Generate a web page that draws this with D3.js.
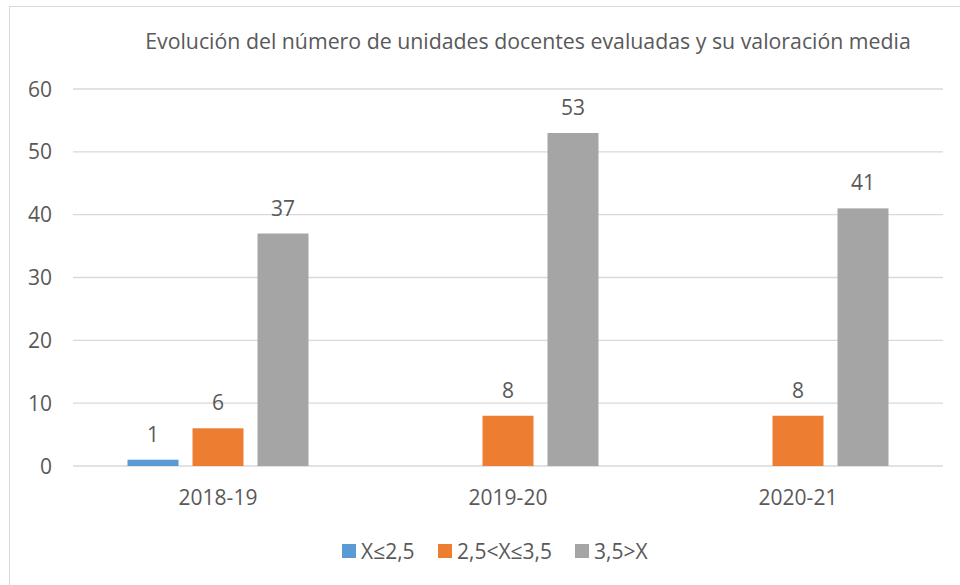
<!DOCTYPE html>
<html>
  <head>
    <meta charset="utf-8" />
    <title>Unidades docentes evaluadas</title>
    <script src="https://d3js.org/d3.v7.min.js"></script>
    <style>
      body { margin: 0; background: #fff; }
      text { font-family: "Open Sans", "Noto Sans", sans-serif; fill: #595959; }
    </style>
  </head>
  <body>
    <svg width="960" height="585" id="chart"></svg>
    <script>
      // data
      var years = ["2018-19", "2019-20", "2020-21"];
      var seriesNames = ["X≤2,5", "2,5<X≤3,5", "3,5>X"];
      var seriesColors = ["#5b9bd5", "#ed7d31", "#a5a5a5"];
      var lowValues = [1, 0, 0];
      var midValues = [6, 8, 8];
      var highValues = [37, 53, 41];
      var yTicks = [0, 10, 20, 30, 40, 50, 60];

      function drawChart() {
        var allSeries = [lowValues, midValues, highValues];
        var svg = d3.select("#chart");
        var fs = "21px";

        // outer chart border (cropped at right and bottom)
        svg.append("rect")
          .attr("x", 9.5).attr("y", 6.5)
          .attr("width", 1000).attr("height", 1000)
          .attr("fill", "white")
          .attr("stroke", "#d9d9d9")
          .attr("stroke-width", 1);

        var plotLeft = 73, plotRight = 943, plotTop = 89, plotBottom = 466;

        var x = d3.scaleBand().domain(years).range([plotLeft, plotRight]);
        var y = d3.scaleLinear().domain([0, 60]).range([plotBottom, plotTop]);

        // gridlines
        svg.selectAll(".grid")
          .data(yTicks)
          .enter().append("line")
          .attr("x1", plotLeft).attr("x2", plotRight)
          .attr("y1", function(d){ return y(d); })
          .attr("y2", function(d){ return y(d); })
          .attr("stroke", "#d9d9d9")
          .attr("stroke-width", 1.3);

        // y tick labels
        svg.selectAll(".ylab")
          .data(yTicks)
          .enter().append("text")
          .attr("x", 52)
          .attr("y", function(d){ return y(d); })
          .attr("dy", "0.36em")
          .attr("text-anchor", "end")
          .style("font-size", fs)
          .text(function(d){ return d; });

        // x category labels
        svg.selectAll(".xlab")
          .data(years)
          .enter().append("text")
          .attr("x", function(d){ return x(d) + x.bandwidth() / 2; })
          .attr("y", 505)
          .attr("text-anchor", "middle")
          .style("font-size", fs)
          .text(function(d){ return d; });

        var barW = 51, step = 65;

        // bars, one group per series
        allSeries.forEach(function(vals, s){
          var items = years.map(function(yr, i){ return {year: yr, v: vals[i]}; })
            .filter(function(d){ return d.v > 0; });
          var cx = function(d){ return x(d.year) + x.bandwidth() / 2 + (s - 1) * step; };

          svg.selectAll(".bar" + s)
            .data(items)
            .enter().append("rect")
            .attr("x", function(d){ return cx(d) - barW / 2; })
            .attr("y", function(d){ return y(d.v); })
            .attr("width", barW)
            .attr("height", function(d){ return y(0) - y(d.v); })
            .attr("fill", seriesColors[s]);

          svg.selectAll(".val" + s)
            .data(items)
            .enter().append("text")
            .attr("x", cx)
            .attr("y", function(d){ return y(d.v) - 18; })
            .attr("text-anchor", "middle")
            .style("font-size", fs)
            .text(function(d){ return d.v; });
        });

        // title
        svg.append("text")
          .attr("x", 528).attr("y", 49)
          .attr("text-anchor", "middle")
          .style("font-size", "21.3px")
          .text("Evolución del número de unidades docentes evaluadas y su valoración media");

        // legend
        var legX = [342, 438, 575];
        seriesNames.forEach(function(name, s){
          svg.append("rect")
            .attr("x", legX[s]).attr("y", 544)
            .attr("width", 14).attr("height", 14)
            .attr("fill", seriesColors[s]);
          svg.append("text")
            .attr("x", legX[s] + 19).attr("y", 551)
            .attr("dy", "0.36em")
            .style("font-size", fs)
            .text(name);
        });
      }

      drawChart();
    </script>
  </body>
</html>
